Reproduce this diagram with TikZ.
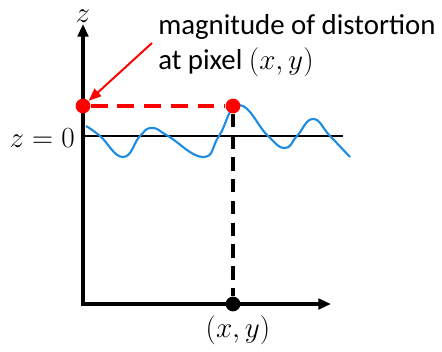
\documentclass[tikz,border=0pt]{standalone}
\usepackage{fontspec}
\newfontfamily\notefont{Carlito}
\usepackage{tikz}
\usetikzlibrary{positioning}
\usetikzlibrary{calc,arrows.meta}
\definecolor{dist-red}{RGB}{255,0,0}
\definecolor{dist-wave}{RGB}{28,140,226}

\begin{document}
\begin{tikzpicture}[
    x=0.025cm, y=0.025cm, % one unit per reference pixel
    font=\fontsize{21.5}{26}\selectfont,
    >={Triangle[length=9pt,width=7.5pt]}
  ]

  % Styles for the axes, dots and guides
  \tikzset{
    axis/.style={line width=2.3pt, black},
    dot/.style={circle, fill=#1, inner sep=0pt, minimum size=10.5pt},
    guide/.style={line width=2.4pt, dash pattern=on 9.5pt off 6pt},
    wave/.style={line width=1.5pt, dist-wave}
  }

  \useasboundingbox (0,0) rectangle (442,351);

  % Axes
  \coordinate (o) at (83,47);
  \coordinate (ztip) at (83,327);
  \coordinate (xtip) at (331,47);
  \draw[axis, <->] (ztip) -- (o) -- (xtip);
  \node (zlab) [anchor=base] at (83,329) {$z$};

  % Zero level
  \coordinate (zl) at (83,215);
  \coordinate (zr) at (343,215);
  \draw[line width=0.9pt] (zl) -- (zr);
  \node (zerolab) [anchor=base east, inner sep=0pt, font=\fontsize{22}{26}\selectfont] at (75,204) {$z=0$};

  % Distortion profile
  \draw[wave] plot[smooth, tension=0.8] coordinates {
    (86,225) (100,215) (123,194) (140,215) (152,223) (168,215) (203,194) (219,215)
    (239,246) (268,215) (285,203) (297,215) (313,232) (330,215) (350,194)};

  % Dots
  \node (mag) [dot=dist-red] at (83,245) {};
  \node (peak) [dot=dist-red] at (233,245) {};
  \node (pix) [dot=black] at (233,47) {};

  % Guides from the peak
  \draw[guide, dist-red, dash pattern=on 12pt off 7pt] (mag) -- (peak);
  \draw[guide, black] (peak) -- (pix);

  % Annotation
  \node (note) [anchor=north west, inner sep=0pt, align=left, font=\notefont\fontsize{20.5}{25}\selectfont] at (158,337)
    {magnitude of distortion\\at pixel $(x,y)$};
  \coordinate (notetail) at (152,308);
  \draw[->, dist-red, line width=1.4pt, >={Triangle[length=9pt,width=7pt]}] (notetail) -- (mag);

  \node (pixlab) [anchor=base] at (238,14) {$(x,y)$};

\end{tikzpicture}
\end{document}
